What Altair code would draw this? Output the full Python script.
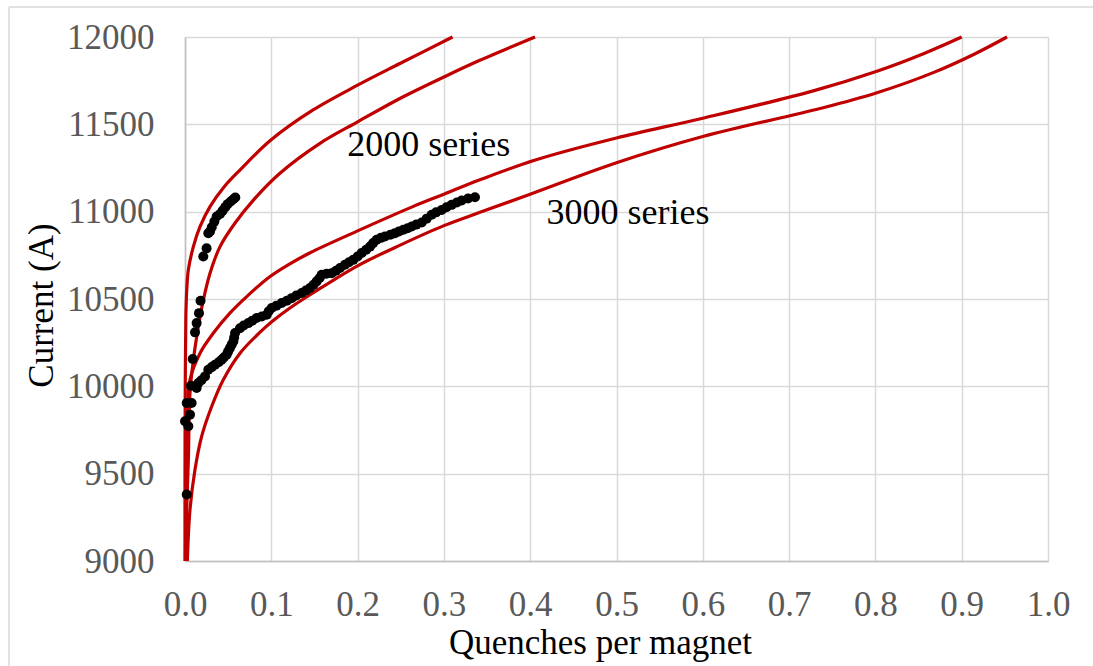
import altair as alt
import pandas as pd

# ---- data ----
curve_a_x = [0.0, 0.0, 0.0003, 0.001, 0.002, 0.0039, 0.0097, 0.0174, 0.029, 0.045, 0.0636, 0.0995, 0.148, 0.2, 0.249, 0.31]
curve_a_y = [9000, 9500, 10000, 10400, 10550, 10667, 10800, 10914, 11029, 11140, 11238, 11410, 11581, 11724, 11848, 12000]

curve_b_x = [0.0008, 0.002, 0.0039, 0.0058, 0.0097, 0.0155, 0.0213, 0.029, 0.0406, 0.058, 0.079, 0.11, 0.156, 0.2, 0.249, 0.3, 0.341, 0.4056]
curve_b_y = [9000, 9300, 9581, 9962, 10152, 10343, 10495, 10648, 10800, 10935, 11065, 11220, 11390, 11514, 11648, 11771, 11865, 12000]

curve_c_x = [0.0005, 0.0012, 0.0027, 0.0058, 0.0174, 0.0329, 0.052, 0.0715, 0.0986, 0.121, 0.145, 0.2, 0.264, 0.3, 0.341, 0.406, 0.5, 0.6, 0.729, 0.8, 0.855, 0.9]
curve_c_y = [9000, 9390, 9771, 10038, 10190, 10305, 10419, 10514, 10629, 10700, 10765, 10890, 11029, 11100, 11181, 11296, 11422, 11535, 11693, 11801, 11903, 12000]

curve_d_x = [0.0027, 0.0058, 0.0116, 0.0193, 0.031, 0.0444, 0.0638, 0.087, 0.1005, 0.122, 0.15, 0.2, 0.25, 0.3, 0.341, 0.4, 0.5, 0.6, 0.737, 0.8, 0.867, 0.915, 0.9525]
curve_d_y = [9000, 9295, 9524, 9714, 9886, 10038, 10190, 10310, 10370, 10450, 10540, 10690, 10810, 10920, 10995, 11100, 11280, 11430, 11592, 11678, 11796, 11903, 12000]

dots_2000_x = [0.002, 0.0, 0.0039, 0.0058, 0.002, 0.0077, 0.0089, 0.0116, 0.0135, 0.0162, 0.018, 0.0212, 0.025, 0.027, 0.029, 0.031, 0.034, 0.0367, 0.0406, 0.0437, 0.0467, 0.0494, 0.0529, 0.056, 0.0583]
dots_2000_y = [9381, 9800, 9771, 9838, 9905, 9905, 10156, 10309, 10362, 10419, 10490, 10743, 10790, 10876, 10886, 10911, 10943, 10972, 10987, 11006, 11026, 11043, 11058, 11071, 11081]

dots_3000_x = [0.007, 0.0135, 0.0155, 0.019, 0.0232, 0.027, 0.031, 0.0348, 0.039, 0.0425, 0.045, 0.0483, 0.05, 0.0521, 0.054, 0.056, 0.057, 0.058,
               0.0637, 0.068, 0.0734, 0.078, 0.083, 0.089, 0.0947, 0.097, 0.1005, 0.106, 0.112, 0.118, 0.1236, 0.129, 0.1352, 0.140,
               0.1448, 0.149, 0.1526, 0.156, 0.1584, 0.164, 0.17, 0.175, 0.1796, 0.1854, 0.19, 0.195, 0.20, 0.2047, 0.21, 0.2144,
               0.218, 0.2221, 0.227, 0.2317, 0.238, 0.2433, 0.248, 0.253, 0.258, 0.2627, 0.268, 0.2743, 0.28, 0.2858, 0.291,
               0.2974, 0.303, 0.309, 0.315, 0.3206, 0.328, 0.336]
dots_3000_y = [10003, 9990, 10019, 10035, 10057, 10095, 10110, 10124, 10138, 10152, 10165, 10181, 10200, 10219, 10238, 10257, 10280, 10305,
               10333, 10348, 10362, 10376, 10391, 10400, 10410, 10430, 10448, 10462, 10477, 10490, 10505, 10520, 10534, 10548,
               10563, 10582, 10601, 10620, 10639, 10645, 10648, 10662, 10677, 10696, 10710, 10724, 10743, 10763, 10782, 10800,
               10820, 10839, 10850, 10858, 10868, 10877, 10887, 10896, 10905, 10915, 10926, 10938, 10960, 10982, 10996,
               11010, 11025, 11039, 11052, 11064, 11075, 11083]

label_text = ["2000 series", "3000 series"]
label_x = [0.188, 0.419]
label_y = [11382, 10993]

x_ticks = [round(i * 0.1, 1) for i in range(11)]
y_ticks = list(range(9000, 12001, 500))

# ---- tables ----
rows = []
for name, xs_, ys_ in [("A", curve_a_x, curve_a_y), ("B", curve_b_x, curve_b_y),
                       ("C", curve_c_x, curve_c_y), ("D", curve_d_x, curve_d_y)]:
    for i, (xv, yv) in enumerate(zip(xs_, ys_)):
        rows.append({"curve": name, "x": xv, "y": yv, "o": i})
curves = pd.DataFrame(rows)

dots = pd.DataFrame({"x": dots_2000_x + dots_3000_x, "y": dots_2000_y + dots_3000_y})
labels = pd.DataFrame({"t": label_text, "x": label_x, "y": label_y})

FONT = "Liberation Serif"
RED = "#C00000"

xs = alt.Scale(domain=[0, 1], nice=False)
ys = alt.Scale(domain=[9000, 12000], nice=False)

x_axis = alt.Axis(values=x_ticks, format=".1f", title="Quenches per magnet",
                  grid=True, gridColor="#d9d9d9", gridWidth=1.5,
                  domainColor="#bfbfbf", domainWidth=1.5, ticks=False, labelFlush=False,
                  labelFont=FONT, labelFontSize=35, labelColor="#595959", labelPadding=26,
                  titleFont=FONT, titleFontSize=35, titleColor="#000000", titleFontWeight="normal",
                  titleX=415, titleY=92, titleBaseline="alphabetic")
y_axis = alt.Axis(values=y_ticks, format="d", title="Current (A)",
                  grid=True, gridColor="#d9d9d9", gridWidth=1.5,
                  domainColor="#bfbfbf", domainWidth=1.5, ticks=False, labelFlush=False,
                  labelFont=FONT, labelFontSize=35, labelColor="#595959", labelPadding=31,
                  titleFont=FONT, titleFontSize=35, titleColor="#000000", titleFontWeight="normal",
                  titleX=-133, titleY=268, titleBaseline="alphabetic")

lines = alt.Chart(curves).mark_line(color=RED, strokeWidth=3.2, interpolate="catmull-rom").encode(
    x=alt.X("x:Q", scale=xs, axis=x_axis),
    y=alt.Y("y:Q", scale=ys, axis=y_axis),
    detail="curve:N",
    order="o:Q",
)

points = alt.Chart(dots).mark_circle(color="#000000", opacity=1, size=100).encode(
    x=alt.X("x:Q", scale=xs),
    y=alt.Y("y:Q", scale=ys),
)

texts = alt.Chart(labels).mark_text(font=FONT, fontSize=36, color="#000000", align="left", baseline="middle").encode(
    x=alt.X("x:Q", scale=xs),
    y=alt.Y("y:Q", scale=ys),
    text="t:N",
)

# light outer chart frame (partially cropped in the reference)
frame_left = alt.Chart(pd.DataFrame({"a": [0]})).mark_rule(color="#d9d9d9", strokeWidth=1.5).encode(
    x=alt.value(-176), y=alt.value(-30), y2=alt.value(640))
frame_top = alt.Chart(pd.DataFrame({"a": [0]})).mark_rule(color="#d9d9d9", strokeWidth=1.5).encode(
    x=alt.value(-176), x2=alt.value(920), y=alt.value(-30))

chart = alt.layer(frame_left, frame_top, lines, points, texts).properties(
    width=863, height=524,
    autosize=alt.AutoSizeParams(type="none"),
    padding={"left": 185, "top": 37, "right": 45, "bottom": 105},
    background="#ffffff",
).configure_view(stroke=None)

chart.save("out.html", embed_options={"renderer": "svg", "actions": False})
